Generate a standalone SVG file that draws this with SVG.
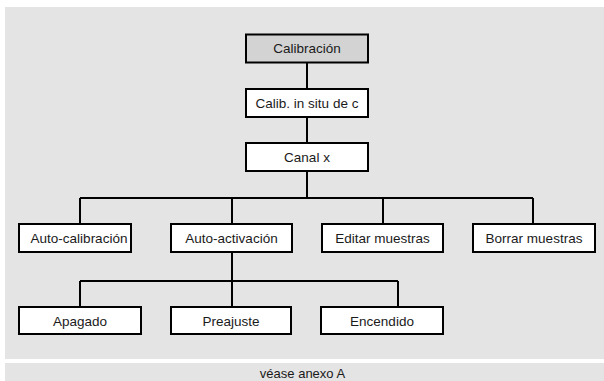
<svg xmlns="http://www.w3.org/2000/svg" width="604" height="381" viewBox="0 0 604 381">
<style>
.box{fill:#fff;stroke:#000;stroke-width:2}
.root{fill:#d3d3d3}
.lbl{font-family:"Liberation Sans",Arial,sans-serif;font-size:13.5px;fill:#1a1a1a;text-anchor:middle}
.ln{fill:none;stroke:#000;stroke-width:2}
</style>
<rect x="0" y="0" width="604" height="381" fill="#fff"/>
<rect x="5" y="7" width="599" height="352" fill="#e4e4e4"/>
<rect x="5" y="363" width="599" height="18" fill="#e4e4e4"/>
<text class="lbl" x="302.5" y="377.5" style="font-size:13px">véase anexo A</text>
<g id="connectors">
<path class="ln" d="M307 62V89M307 117V143M307 171V198M80 198H533M80 198V224M232 198V224M383 198V224M533 198V224"/>
<path class="ln" d="M232 252V281M80 281H398M80 281V307M232 281V307M398 281V307"/>
</g>
<g id="calibracion"><rect class="box root" x="246" y="34.5" width="122" height="28"/><text class="lbl" x="307" y="53">Calibración</text></g>
<g id="calib-in-situ"><rect class="box" x="246" y="89" width="122" height="28"/><text class="lbl" x="307" y="108">Calib. in situ de c</text></g>
<g id="canal-x"><rect class="box" x="246" y="143" width="122" height="28"/><text class="lbl" x="307" y="162">Canal x</text></g>
<g id="auto-calibracion"><rect class="box" x="19" y="224" width="112" height="28"/><text class="lbl" x="79" y="243">Auto-calibración</text></g>
<g id="auto-activacion"><rect class="box" x="171" y="224" width="121" height="28"/><text class="lbl" x="231.5" y="243">Auto-activación</text></g>
<g id="editar-muestras"><rect class="box" x="322" y="224" width="121" height="28"/><text class="lbl" x="382.5" y="243">Editar muestras</text></g>
<g id="borrar-muestras"><rect class="box" x="473" y="224" width="122" height="28"/><text class="lbl" x="534" y="243">Borrar muestras</text></g>
<g id="apagado"><rect class="box" x="19" y="307" width="122" height="27"/><text class="lbl" x="80" y="325.5">Apagado</text></g>
<g id="preajuste"><rect class="box" x="171" y="307" width="120" height="27"/><text class="lbl" x="231" y="325.5">Preajuste</text></g>
<g id="encendido"><rect class="box" x="321" y="307" width="122" height="27"/><text class="lbl" x="382" y="325.5">Encendido</text></g>
</svg>
